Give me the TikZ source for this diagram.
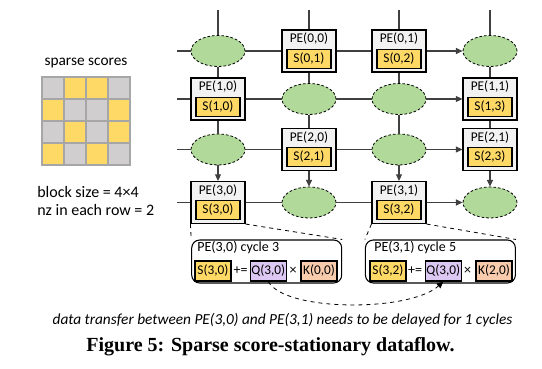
\documentclass[tikz,border=0pt]{standalone}
\usepackage{fontspec}
\setmainfont{Carlito}
\newfontfamily\capfont{Liberation Serif}
\usetikzlibrary{shapes.geometric,arrows.meta}

\definecolor{peGray}{HTML}{F2F2F2}
\definecolor{sYellow}{HTML}{FFD966}
\definecolor{idleGreen}{HTML}{B0D99A}
\definecolor{qPurple}{HTML}{DCC8F2}
\definecolor{kOrange}{HTML}{F8CBAD}
\definecolor{cellGray}{HTML}{D0CECE}
\definecolor{cellLine}{HTML}{A6A6A6}
\definecolor{wireGray}{HTML}{404040}

\tikzset{
  pe/.style={draw=black, fill=peGray, line width=0.8pt, minimum width=40.5pt, minimum height=31.5pt, inner sep=0pt},
  pelbl/.style={anchor=center, yshift=-7.1pt, inner sep=0pt, font=\fontsize{10}{12}\selectfont},
  sval/.style={draw=black, fill=sYellow, line width=0.8pt, minimum width=33pt, minimum height=14.25pt, inner sep=0pt, font=\fontsize{10}{12}\selectfont},
  idle/.style={ellipse, draw=black, dash pattern=on 2pt off 1.5pt, fill=idleGreen, minimum width=40.5pt, minimum height=23.25pt, inner sep=0pt, line width=0.6pt},
  wire/.style={draw=wireGray, line width=0.8pt},
  wirearr/.style={wire, -{Triangle[length=5pt,width=4.5pt]}},
  cyclebox/.style={draw=black, rounded corners=6pt, line width=0.8pt, minimum width=112.5pt, minimum height=32.25pt, inner sep=0pt},
  opbox/.style={draw=black, line width=0.8pt, minimum width=27pt, minimum height=15pt, inner sep=0pt, font=\fontsize{10}{12}\selectfont},
  optext/.style={inner sep=0pt, font=\fontsize{10.5}{12}\selectfont},
  note/.style={inner sep=0pt, font=\fontsize{12}{14}\selectfont}
}

\begin{document}
\begin{tikzpicture}[x=0.75pt, y=-0.75pt]

  % Bounding box of the scheme
  \useasboundingbox (0,0) rectangle (542,368);

  %%%%%%%%%%%%%%%%%%%%%%%%%%%%%%%%% Sparse scores block %%%%%%%%%%%%%%%%%%%%%%%%%%%%%%%%%%%%
  \node[inner sep=0pt, font=\fontsize{11.5}{14}\selectfont] (title) at (86,63) {sparse scores};
  \fill[cellGray] (42,77) rectangle (130,165);
  \fill[sYellow] (64,77) rectangle (108,99);
  \fill[sYellow] (42,99) rectangle (64,121);
  \fill[sYellow] (108,99) rectangle (130,121);
  \fill[sYellow] (64,121) rectangle (86,143);
  \fill[sYellow] (108,121) rectangle (130,143);
  \fill[sYellow] (42,143) rectangle (64,165);
  \fill[sYellow] (86,143) rectangle (108,165);
  \draw[cellLine, line width=1pt] (42,77) rectangle (130,165);
  \draw[cellLine, line width=1pt] (64,77) -- (64,165) (86,77) -- (86,165) (108,77) -- (108,165);
  \draw[cellLine, line width=1pt] (42,99) -- (130,99) (42,121) -- (130,121) (42,143) -- (130,143);
  \node[note, anchor=west] (bsize) at (37,192) {block size = 4×4};
  \node[note, anchor=west] (nzrow) at (37,210) {nz in each row = 2};

  %%%%%%%%%%%%%%%%%%%%%%%%%%%%%%%%% Array of PEs %%%%%%%%%%%%%%%%%%%%%%%%%%%%%%%%%%%%
  % row 0
  \node[idle] (g00) at (218,51) {};
  \node[pe, label={[pelbl]north:PE(0,0)}] (g01) at (309,51) {};
  \node[sval] (s01) at ([yshift=10.5pt]g01.south) {S(0,1)};
  \node[pe, label={[pelbl]north:PE(0,1)}] (g02) at (399,51) {};
  \node[sval] (s02) at ([yshift=10.5pt]g02.south) {S(0,2)};
  \node[idle] (g03) at (490,51) {};
  % row 1
  \node[pe, label={[pelbl]north:PE(1,0)}] (g10) at (218,99) {};
  \node[sval] (s10) at ([yshift=10.5pt]g10.south) {S(1,0)};
  \node[idle] (g11) at (309,99) {};
  \node[idle] (g12) at (399,99) {};
  \node[pe, label={[pelbl]north:PE(1,1)}] (g13) at (490,99) {};
  \node[sval] (s13) at ([yshift=10.5pt]g13.south) {S(1,3)};
  % row 2
  \node[idle] (g20) at (218,149.5) {};
  \node[pe, label={[pelbl]north:PE(2,0)}] (g21) at (309,149.5) {};
  \node[sval] (s21) at ([yshift=10.5pt]g21.south) {S(2,1)};
  \node[idle] (g22) at (399,149.5) {};
  \node[pe, label={[pelbl]north:PE(2,1)}] (g23) at (490,149.5) {};
  \node[sval] (s23) at ([yshift=10.5pt]g23.south) {S(2,3)};
  % row 3
  \node[pe, label={[pelbl]north:PE(3,0)}] (g30) at (218,202.5) {};
  \node[sval] (s30) at ([yshift=10.5pt]g30.south) {S(3,0)};
  \node[idle] (g31) at (309,202.5) {};
  \node[pe, label={[pelbl]north:PE(3,1)}] (g32) at (399,202.5) {};
  \node[sval] (s32) at ([yshift=10.5pt]g32.south) {S(3,2)};
  \node[idle] (g33) at (490,202.5) {};

  % free ends of the wires
  \coordinate (w0) at (177,51);
  \coordinate (w1) at (177,99);
  \coordinate (w2) at (177,149.5);
  \coordinate (w3) at (177,202.5);
  \coordinate (t0) at (218,10);
  \coordinate (t1) at (309,10);
  \coordinate (t2) at (399,10);
  \coordinate (t3) at (490,10);

  % horizontal wires
  \draw[wire] (w0) -- (g00) -- (g01) -- (g02);
  \draw[wirearr] (g02) -- (g03);
  \draw[wire] (w1) -- (g10) -- (g11) -- (g12);
  \draw[wirearr] (g12) -- (g13);
  \draw[wire] (w2) -- (g20) -- (g21) -- (g22);
  \draw[wirearr] (g22) -- (g23);
  \draw[wire] (w3) -- (g30) -- (g31) -- (g32);
  \draw[wirearr] (g32) -- (g33);

  % vertical wires
  \draw[wire] (t0) -- (g00) -- (g10) -- (g20);
  \draw[wirearr] (g20) -- (g30);
  \draw[wire] (t1) -- (g01) -- (g11) -- (g21);
  \draw[wirearr] (g21) -- (g31);
  \draw[wire] (t2) -- (g02) -- (g12) -- (g22);
  \draw[wirearr] (g22) -- (g32);
  \draw[wire] (t3) -- (g03) -- (g13) -- (g23);
  \draw[wirearr] (g23) -- (g33);

  %%%%%%%%%%%%%%%%%%%%%%%%%%%%%%%%% Zoom on PE(3,0) and PE(3,1) %%%%%%%%%%%%%%%%%%%%%%%%%%%%%%%%%%%%
  \node[cyclebox] (cyA) at (266.7,261.5) {};
  \node[optext, anchor=west] (cyAt) at (197,248) {PE(3,0) cycle 3};
  \node[opbox, fill=sYellow] (sA) at (213,271) {S(3,0)};
  \node[optext] (pA) at (240.7,271) {+=};
  \node[opbox, fill=qPurple] (qA) at (268.3,271) {Q(3,0)};
  \node[optext] (xA) at (293,271) {×};
  \node[opbox, fill=kOrange] (kA) at (319,271) {K(0,0)};

  \node[cyclebox] (cyB) at (440.4,261.5) {};
  \node[optext, anchor=west] (cyBt) at (374,248) {PE(3,1) cycle 5};
  \node[opbox, fill=sYellow] (sB) at (388,271) {S(3,2)};
  \node[optext] (pB) at (415,271) {+=};
  \node[opbox, fill=qPurple] (qB) at (443.3,271) {Q(3,0)};
  \node[optext] (xB) at (467.7,271) {×};
  \node[opbox, fill=kOrange] (kB) at (494,271) {K(2,0)};

  \draw[dashed, line width=0.6pt] (g30.south west) -- (cyA.north west);
  \draw[dashed, line width=0.6pt] (g30.south east) -- (cyA.north east);
  \draw[dashed, line width=0.6pt] (g32.south west) -- (cyB.north west);
  \draw[dashed, line width=0.6pt] (g32.south east) -- (cyB.north east);

  \draw[dashed, line width=0.6pt, -{Triangle[length=5pt,width=4.5pt]}] (qA.south) .. controls (285,312) and (410,312) .. (qB.south);

  %%%%%%%%%%%%%%%%%%%%%%%%%%%%%%%%% Note and caption %%%%%%%%%%%%%%%%%%%%%%%%%%%%%%%%%%%%
  \node[inner sep=0pt, font=\itshape\fontsize{11.5}{13}\selectfont] (delay) at (282.5,320) {data transfer between PE(3,0) and PE(3,1) needs to be delayed for 1 cycles};
  \node[inner sep=0pt, font=\capfont\bfseries\fontsize{15}{18}\selectfont] (caption) at (270.5,347) {Figure 5: Sparse score-stationary dataflow.};

\end{tikzpicture}
\end{document}
